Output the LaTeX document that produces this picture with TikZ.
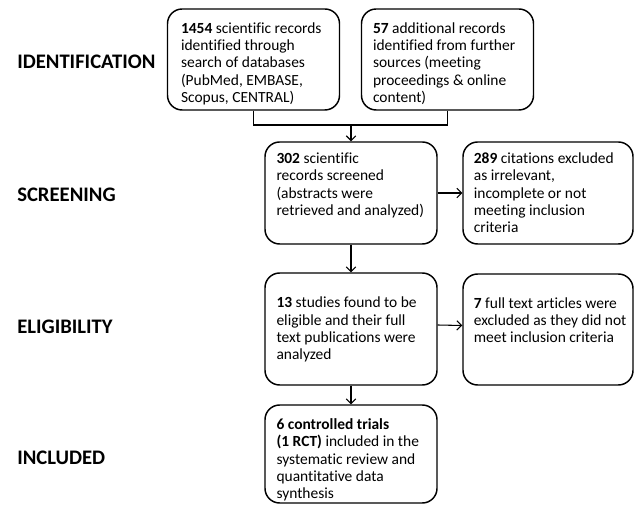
\documentclass[tikz,border=0pt]{standalone}
\usepackage{fontspec}
\setmainfont{Carlito}[Ligatures=NoCommon]
\usetikzlibrary{positioning,arrows.meta}

\tikzset{
  box/.style={draw, rounded corners=11pt, line width=1.1pt, minimum width=129pt, inner sep=0pt},
  txt/.style={inner sep=0pt, align=left, font=\fontsize{11.6}{13}\selectfont},
  stage/.style={inner sep=0pt, anchor=west, font=\fontsize{15.5}{18}\selectfont\bfseries},
  link/.style={line width=0.8pt},
  arr/.style={line width=0.8pt, -{Straight Barb[length=3.5pt, width=7pt]}}
}

\begin{document}
\begin{tikzpicture}[x=0.75pt, y=-0.75pt]
\useasboundingbox (0,0) rectangle (635,505);
% stage labels
\node[stage] (sid) at (17,62) {IDENTIFICATION};
\node[stage] (sscr) at (17,195) {SCREENING};
\node[stage] (selig) at (17,327) {ELIGIBILITY};
\node[stage] (sincl) at (17,458) {INCLUDED};
% boxes
\node[box, minimum height=75.75pt] (db) at (253.5,59.5) {};
\node[box, minimum height=75.75pt] (extra) at (447.5,59.5) {};
\node[box, minimum height=76.5pt] (scr) at (351,193) {};
\node[box, minimum width=127.5pt, minimum height=76.5pt] (excla) at (548,193) {};
\node[box, minimum height=84pt] (elig) at (351,329) {};
\node[box, minimum width=127.5pt, minimum height=83.25pt] (exclb) at (548,329.5) {};
\node[box, minimum height=73.5pt] (incl) at (351,454) {};
% texts
\node[txt, below right=10.5pt and 10.5pt of db.north west] (tdb) {\textbf{1454} scientific records\\identified through\\search of databases\\(PubMed, EMBASE,\\Scopus, CENTRAL)};
\node[txt, below right=10.5pt and 9pt of extra.north west] (textra) {\textbf{57} additional records\\identified from further\\sources (meeting\\proceedings \& online\\content)};
\node[txt, below right=8.5pt and 9pt of scr.north west] (tscr) {\textbf{302} scientific\\records screened\\(abstracts were\\retrieved and analyzed)};
\node[txt, below right=8.5pt and 8.5pt of excla.north west] (texcla) {\textbf{289} citations excluded\\as irrelevant,\\incomplete or not\\meeting inclusion\\criteria};
\node[txt, below right=18.5pt and 9pt of elig.north west] (telig) {\textbf{13} studies found to be\\eligible and their full\\text publications were\\analyzed};
\node[txt, below right=18pt and 8.5pt of exclb.north west] (texclb) {\textbf{7} full text articles were\\excluded as they did not\\meet inclusion criteria};
\node[txt, below right=10.5pt and 9pt of incl.north west] (tincl) {\textbf{6 controlled trials}\\\textbf{(1 RCT)} included in the\\systematic review and\\quantitative data\\synthesis};
% connectors
\coordinate (join) at (351,125);
\draw[link] (db.south) |- (join) -| (extra.south);
\draw[arr] (join) -- (scr.north);
\draw[arr] (scr.east) -- (excla.west);
\draw[arr] (scr.south) -- (elig.north);
\draw[arr] ([yshift=3pt]elig.east) -- ([yshift=3pt]exclb.west);
\draw[arr] (elig.south) -- (incl.north);
\end{tikzpicture}
\end{document}
